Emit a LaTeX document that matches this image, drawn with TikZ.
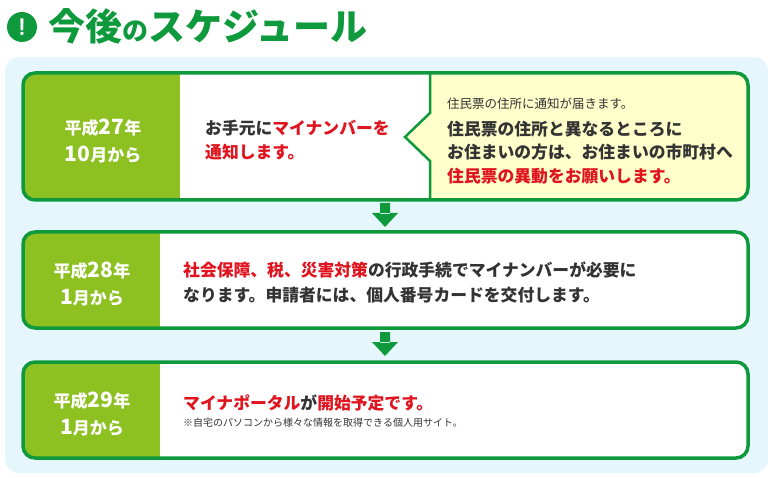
\documentclass[tikz,border=0pt]{standalone}
\usepackage{fontspec}
\newfontfamily\cjk{Noto Sans CJK JP}
\definecolor{gr}{HTML}{0E9A3C}
\definecolor{lg}{HTML}{8DC021}
\definecolor{bl}{HTML}{E6F6FD}
\definecolor{yl}{HTML}{FFFFCC}
\definecolor{rd}{HTML}{E0141E}
\definecolor{tx}{HTML}{333333}
\tikzset{
 box/.style={draw=gr,line width=3.5pt,rounded corners=12pt},
 dl/.style={font=\cjk\bfseries\fontsize{17}{27}\selectfont,text=white,align=center},
 tl/.style={font=\cjk\bfseries\fontsize{16.8}{20}\selectfont,text=tx,anchor=west,inner sep=0pt},
 sm/.style={font=\cjk\fontsize{12.5}{15}\selectfont,text=tx,anchor=west,inner sep=0pt},
 arr/.style={fill=gr,draw=none}
}
\begin{document}
\begin{tikzpicture}[x=1pt,y=-1pt]
\useasboundingbox (0,0) rectangle (773,478);
% title
\fill[gr] (22,27) circle (15);
\node[text=white,font=\sffamily\bfseries\fontsize{24}{24}\selectfont] (ex) at (22,27) {!};
\node[anchor=west,text=gr,font=\cjk\bfseries\fontsize{37}{40}\selectfont,inner sep=0pt] (title) at (48,26) {今後{\fontsize{26}{26}\selectfont の}スケジュール};
% panel
\fill[bl,rounded corners=14pt] (5,57) rectangle (768,473);
% box1
\begin{scope}
\clip[rounded corners=12pt] (23,73) rectangle (748,200);
\fill[white] (23,73) rectangle (748,200);
\fill[lg] (23,73) rectangle (180,200);
\fill[yl] (430,73) -- (430,113) -- (405,137) -- (430,161) -- (430,200) -- (748,200) -- (748,73) -- cycle;
\draw[gr,line width=2.5pt] (430,73) -- (430,113) -- (405,137) -- (430,161) -- (430,200);
\end{scope}
\draw[box] (23,73) rectangle (748,200);
\node[dl] (d1) at (103,141) {平成{\fontsize{21}{22}\selectfont 27}年\\{\fontsize{21}{22}\selectfont 10}月から};
\node[tl] (a1) at (205,128) {お手元に\textcolor{rd}{マイナンバーを}};
\node[tl] (a2) at (205,152) {\textcolor{rd}{通知します。}};
\node[sm] (b0) at (447,104) {住民票の住所に通知が届きます。};
\node[tl] (b1) at (447,129) {住民票の住所と異なるところに};
\node[tl] (b2) at (447,152) {お住まいの方は、お住まいの市町村へ};
\node[tl] (b3) at (447,176) {\textcolor{rd}{住民票の異動をお願いします。}};
% arrow 1
\fill[arr] (380,203) rectangle (390,214) (372,213) -- (398,213) -- (385,227) -- cycle;
% box2
\begin{scope}
\clip[rounded corners=12pt] (23,232) rectangle (748,328);
\fill[white] (23,232) rectangle (748,328);
\fill[lg] (23,232) rectangle (160,328);
\end{scope}
\draw[box] (23,232) rectangle (748,328);
\node[dl] (d2) at (92,284) {平成{\fontsize{21}{22}\selectfont 28}年\\{\fontsize{21}{22}\selectfont 1}月から};
\node[tl] (c1) at (183,270) {\textcolor{rd}{社会保障、税、災害対策}の行政手続でマイナンバーが必要に};
\node[tl] (c2) at (183,295) {なります。申請者には、個人番号カードを交付します。};
% arrow 2
\fill[arr] (380,332) rectangle (390,343) (372,342) -- (398,342) -- (385,356) -- cycle;
% box3
\begin{scope}
\clip[rounded corners=12pt] (23,362) rectangle (748,458);
\fill[white] (23,362) rectangle (748,458);
\fill[lg] (23,362) rectangle (160,458);
\end{scope}
\draw[box] (23,362) rectangle (748,458);
\node[dl] (d3) at (92,414) {平成{\fontsize{21}{22}\selectfont 29}年\\{\fontsize{21}{22}\selectfont 1}月から};
\node[tl] (e1) at (183,403) {\textcolor{rd}{マイナポータル}が\textcolor{rd}{開始予定です。}};
\node[font=\cjk\fontsize{10}{11}\selectfont,text=tx,anchor=west,inner sep=0pt] (e2) at (183,423) {※自宅のパソコンから様々な情報を取得できる個人用サイト。};
\end{tikzpicture}
\end{document}
